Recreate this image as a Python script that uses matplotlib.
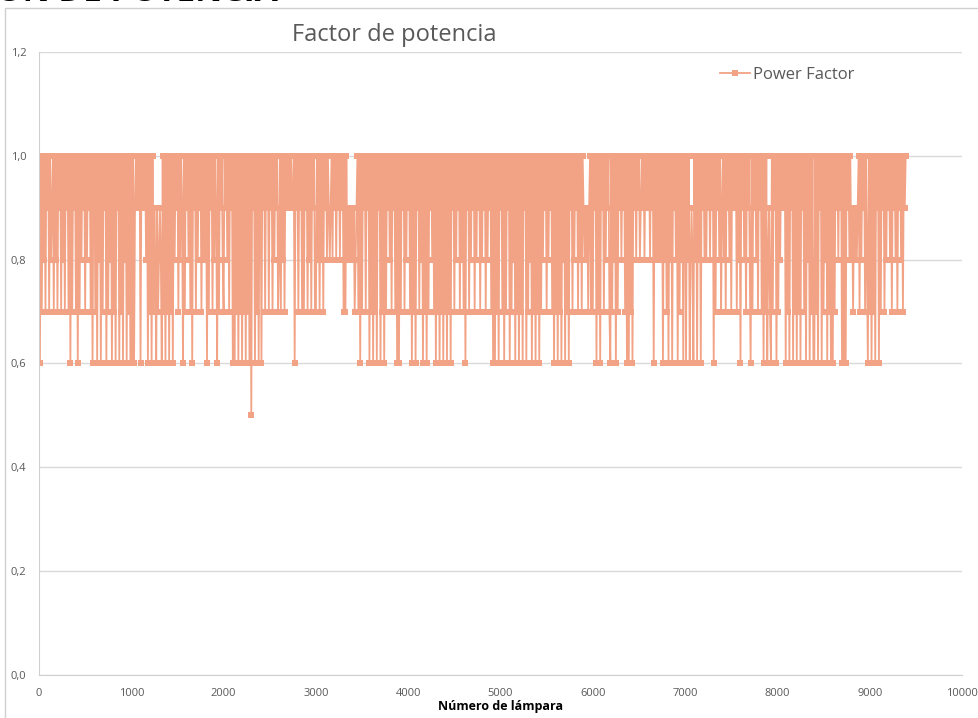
import numpy as np
import matplotlib
matplotlib.use("Agg")
import matplotlib.pyplot as plt
from matplotlib.ticker import FuncFormatter

# power factor per lamp, one digit every 10 lamps ('0' = 1.0, '9' = 0.9 ...)
pf_chunks = [
    "06070807090708907080", "70907080709070607090", "70607080907080907060",
    "07060806070906070806", "07060906070608060706", "06069090906090908060",
    "70607986978986070607", "06070608090708096070", "90807060907080907080",
    "80607090708096070908", "70908070906060706070", "60706070605090607060",
    "06090709070907080907", "80708070909090990609", "07090707090708070907",
    "70807080709080989080", "90809080907070898989", "89789070607090709060",
    "70607060906070607090", "80709070606070907080", "90706070609070806070",
    "60709080706070607060", "70607060907080907080", "70609070809070809070",
    "80907080907060607060", "90706070906070806070", "60706090607080607060",
    "70607080907080907060", "70607060806070609070", "80907080709898979070",
    "70906070609070809076", "07080607090809070606", "07060908090890908090",
    "90809060808080806080", "70608060908060708060", "06080689860806080609",
    "08080908090607090807", "90807090807090907080", "60908070908607090807",
    "09070607068976070906", "07080909060706090607", "06070609070608060706",
    "60706090607080607060", "60709080906060609080", "89798989070809070860",
    "70607060906070907080", "90807090807090807090",
]
lamp_step = 10

y_ticks = [0.0, 0.2, 0.4, 0.6, 0.8, 1.0, 1.2]
x_ticks = [0, 1000, 2000, 3000, 4000, 5000, 6000, 7000, 8000, 9000, 10000]

digits = "".join(pf_chunks)
pf = np.array([1.0 if c == "0" else int(c) / 10 for c in digits])
lamps = np.arange(len(pf)) * lamp_step

line_color = "#F2A385"
grey = "#595959"
plt.rcParams['font.family'] = ['Open Sans', 'DejaVu Sans']

fig = plt.figure(figsize=(9.79, 7.18), dpi=100)
ax = fig.add_axes([39 / 979, 1 - 675 / 718, 923 / 979, 623 / 718])

# outer chart frame
fig.add_artist(plt.Rectangle((5 / 979, -0.01), 1.0, 1 - 8 / 718 + 0.01,
                             transform=fig.transFigure, fill=False,
                             edgecolor="#D0D0D0", linewidth=1))

# heading of the page, cut by the top edge
fig.text(-0.004, 1 - 1 / 718, "ÓN DE POTENCIA", fontsize=24, fontweight="bold",
         color="black", va="baseline", ha="left")

ax.plot(lamps, pf, color=line_color, linewidth=1.3, marker="s", markersize=4.8,
        markeredgewidth=0, label="Power Factor")

ax.set_xlim(0, 10000)
ax.set_ylim(0, 1.2)
ax.set_xticks(x_ticks)
ax.set_yticks(y_ticks)
ax.yaxis.set_major_formatter(FuncFormatter(lambda v, p: f"{v:.1f}".replace(".", ",")))
ax.grid(axis="y", color="#D9D9D9", linewidth=1)
ax.set_axisbelow(True)
for s in ["top", "right"]:
    ax.spines[s].set_visible(False)
for s in ["left", "bottom"]:
    ax.spines[s].set_color("#D0D0D0")
ax.tick_params(length=0, labelsize=8, labelcolor=grey)
ax.tick_params(axis="x", pad=9)
ax.tick_params(axis="y", pad=9)

ax.set_xlabel("Número de lámpara", fontsize=9, fontweight="bold", color="black",
              labelpad=1)
ax.set_title("Factor de potencia", fontsize=17, color=grey, pad=8, x=0.385)

leg = ax.legend(loc="upper right", bbox_to_anchor=(0.9, 1.0), frameon=False,
                fontsize=12, handlelength=1.8, handletextpad=0.2)
for t in leg.get_texts():
    t.set_color(grey)

fig.savefig("out.png", dpi=100)
